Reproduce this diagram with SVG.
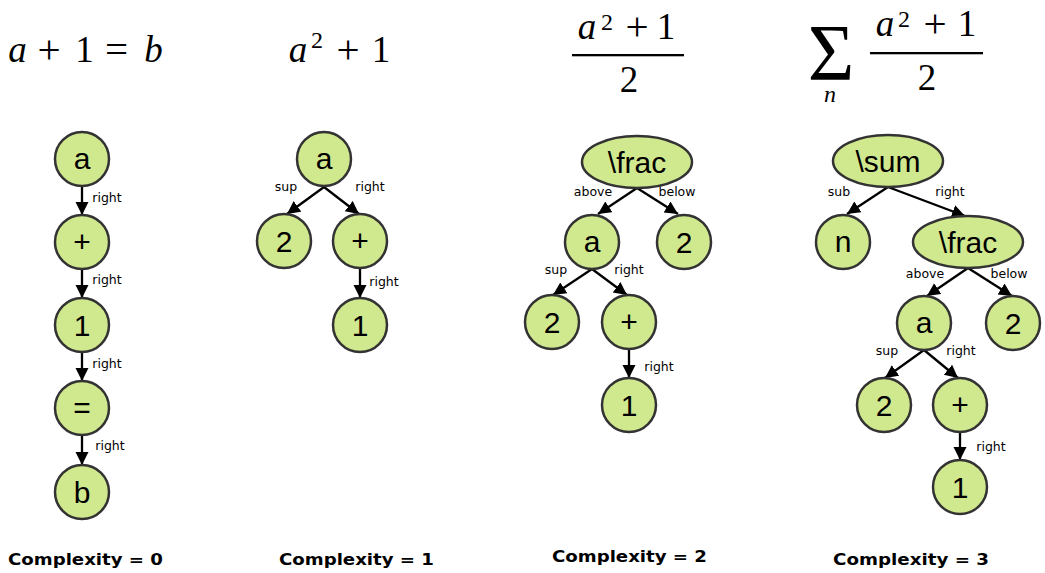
<svg xmlns="http://www.w3.org/2000/svg" width="1045" height="573" viewBox="0 0 1045 573">
<style>
.n{fill:#d1e98e;stroke:#333;stroke-width:2.5}
.t{font-family:"Liberation Sans",Arial,sans-serif;font-size:30px;text-anchor:middle;fill:#000}
.l{font-family:"DejaVu Sans",sans-serif;font-size:12.5px;text-anchor:middle;fill:#000}
.e{stroke:#000;stroke-width:2.3;fill:none;marker-end:url(#ah)}
.m{font-family:"Liberation Serif","Times New Roman",serif;fill:#000;text-anchor:middle}
.i{font-style:italic}
.o{font-size:41px}
.c{font-family:"DejaVu Sans",sans-serif;font-weight:bold;font-size:16px;fill:#000}
</style>
<defs>
<marker id="ah" markerUnits="userSpaceOnUse" markerWidth="16" markerHeight="14" refX="13" refY="6.5" orient="auto">
<path d="M0,0 L13,6.5 L0,13 Z" fill="#000"/>
</marker>
</defs>
<rect width="1045" height="573" fill="#fff"/>

<g id="formulas">
<g id="f1">
<text class="m i" x="17.5" y="62" font-size="37">a</text>
<text class="m o" x="49" y="63">+</text>
<text class="m" x="84.5" y="62" font-size="37">1</text>
<text class="m o" x="116.5" y="63">=</text>
<text class="m i" x="153.5" y="62" font-size="37">b</text>
</g>
<g id="f2">
<text class="m i" x="298" y="62" font-size="37">a</text>
<text class="m" x="317" y="48" font-size="24">2</text>
<text class="m o" x="348" y="63">+</text>
<text class="m" x="381" y="62" font-size="37">1</text>
</g>
<g id="f3">
<text class="m i" x="587" y="39" font-size="37">a</text>
<text class="m" x="607" y="30" font-size="24">2</text>
<text class="m o" x="637" y="40">+</text>
<text class="m" x="666" y="39" font-size="37">1</text>
<rect x="572" y="54" width="112" height="2.3" fill="#000"/>
<text class="m" x="629" y="92" font-size="37">2</text>
</g>
<g id="f4">
<text class="m" x="831" y="80" font-size="80">Σ</text>
<text class="m i" x="830" y="102" font-size="24">n</text>
<text class="m i" x="885" y="36" font-size="37">a</text>
<text class="m" x="904" y="27" font-size="24">2</text>
<text class="m o" x="935" y="37">+</text>
<text class="m" x="967" y="36" font-size="37">1</text>
<rect x="870" y="52" width="113" height="2.3" fill="#000"/>
<text class="m" x="927" y="90" font-size="37">2</text>
</g>
</g>

<g id="connectors">
<line class="e" x1="82" y1="186" x2="82" y2="215"/>
<line class="e" x1="82" y1="269" x2="82" y2="298"/>
<line class="e" x1="82" y1="352" x2="82" y2="381"/>
<line class="e" x1="82" y1="435" x2="82" y2="465"/>
<line class="e" x1="324" y1="187" x2="287" y2="214"/>
<line class="e" x1="324" y1="187" x2="359" y2="214"/>
<line class="e" x1="360" y1="268" x2="360" y2="298"/>
<line class="e" x1="637" y1="188" x2="598" y2="214"/>
<line class="e" x1="637" y1="188" x2="678" y2="214"/>
<line class="e" x1="592" y1="269" x2="553" y2="295"/>
<line class="e" x1="592" y1="269" x2="627" y2="295"/>
<line class="e" x1="629" y1="350" x2="629" y2="378"/>
<line class="e" x1="888" y1="187" x2="847" y2="214"/>
<line class="e" x1="888" y1="187" x2="965" y2="216"/>
<line class="e" x1="968" y1="268" x2="927" y2="296"/>
<line class="e" x1="968" y1="268" x2="1012" y2="296"/>
<line class="e" x1="924" y1="350" x2="885" y2="378"/>
<line class="e" x1="924" y1="350" x2="958" y2="378"/>
<line class="e" x1="960" y1="432" x2="960" y2="460"/>
</g>

<g id="edge-labels">
<text class="l" x="107" y="202">right</text>
<text class="l" x="107" y="284">right</text>
<text class="l" x="107" y="368">right</text>
<text class="l" x="110" y="450">right</text>
<text class="l" x="286" y="191">sup</text>
<text class="l" x="370" y="191">right</text>
<text class="l" x="384" y="286">right</text>
<text class="l" x="593" y="196">above</text>
<text class="l" x="677" y="196">below</text>
<text class="l" x="556" y="274">sup</text>
<text class="l" x="629" y="274">right</text>
<text class="l" x="659" y="371">right</text>
<text class="l" x="839" y="196">sub</text>
<text class="l" x="950" y="196">right</text>
<text class="l" x="925" y="278">above</text>
<text class="l" x="1009" y="278">below</text>
<text class="l" x="887" y="355">sup</text>
<text class="l" x="961" y="355">right</text>
<text class="l" x="991" y="451">right</text>
</g>

<g id="c1-a"><circle class="n" cx="82" cy="159" r="27"/><text class="t" x="82" y="169">a</text></g>
<g id="c1-plus"><circle class="n" cx="82" cy="242" r="27"/><text class="t" x="82" y="252">+</text></g>
<g id="c1-1"><circle class="n" cx="82" cy="325" r="27"/><text class="t" x="82" y="336">1</text></g>
<g id="c1-eq"><circle class="n" cx="82" cy="408" r="27"/><text class="t" x="82" y="418">=</text></g>
<g id="c1-b"><circle class="n" cx="82" cy="492" r="27"/><text class="t" x="82" y="503">b</text></g>

<g id="c2-a"><circle class="n" cx="324" cy="159" r="27"/><text class="t" x="324" y="169">a</text></g>
<g id="c2-2"><circle class="n" cx="284" cy="241" r="27"/><text class="t" x="284" y="252">2</text></g>
<g id="c2-plus"><circle class="n" cx="360" cy="241" r="27"/><text class="t" x="360" y="251">+</text></g>
<g id="c2-1"><circle class="n" cx="360" cy="325" r="27"/><text class="t" x="360" y="336">1</text></g>

<g id="c3-frac"><ellipse class="n" cx="637" cy="162" rx="55" ry="26"/><text class="t" x="637" y="173">\frac</text></g>
<g id="c3-a"><circle class="n" cx="592" cy="242" r="27"/><text class="t" x="592" y="252">a</text></g>
<g id="c3-2r"><circle class="n" cx="684" cy="242" r="27"/><text class="t" x="684" y="253">2</text></g>
<g id="c3-2"><circle class="n" cx="552" cy="322" r="27"/><text class="t" x="552" y="333">2</text></g>
<g id="c3-plus"><circle class="n" cx="629" cy="322" r="27"/><text class="t" x="629" y="332">+</text></g>
<g id="c3-1"><circle class="n" cx="629" cy="405" r="27"/><text class="t" x="629" y="416">1</text></g>

<g id="c4-sum"><ellipse class="n" cx="888" cy="161" rx="55" ry="26"/><text class="t" x="888" y="172">\sum</text></g>
<g id="c4-n"><circle class="n" cx="843" cy="242" r="27"/><text class="t" x="843" y="252">n</text></g>
<g id="c4-frac"><ellipse class="n" cx="968" cy="242" rx="55" ry="26"/><text class="t" x="968" y="253">\frac</text></g>
<g id="c4-a"><circle class="n" cx="924" cy="323" r="27"/><text class="t" x="924" y="333">a</text></g>
<g id="c4-2r"><circle class="n" cx="1013" cy="323" r="27"/><text class="t" x="1013" y="334">2</text></g>
<g id="c4-2"><circle class="n" cx="884" cy="405" r="27"/><text class="t" x="884" y="416">2</text></g>
<g id="c4-plus"><circle class="n" cx="960" cy="405" r="27"/><text class="t" x="960" y="415">+</text></g>
<g id="c4-1"><circle class="n" cx="960" cy="487" r="27"/><text class="t" x="960" y="498">1</text></g>

<g id="captions">
<text class="c" x="8" y="565" textLength="155" lengthAdjust="spacingAndGlyphs">Complexity = 0</text>
<text class="c" x="279" y="565" textLength="155" lengthAdjust="spacingAndGlyphs">Complexity = 1</text>
<text class="c" x="552" y="562" textLength="155" lengthAdjust="spacingAndGlyphs">Complexity = 2</text>
<text class="c" x="833" y="565" textLength="156" lengthAdjust="spacingAndGlyphs">Complexity = 3</text>
</g>
</svg>
